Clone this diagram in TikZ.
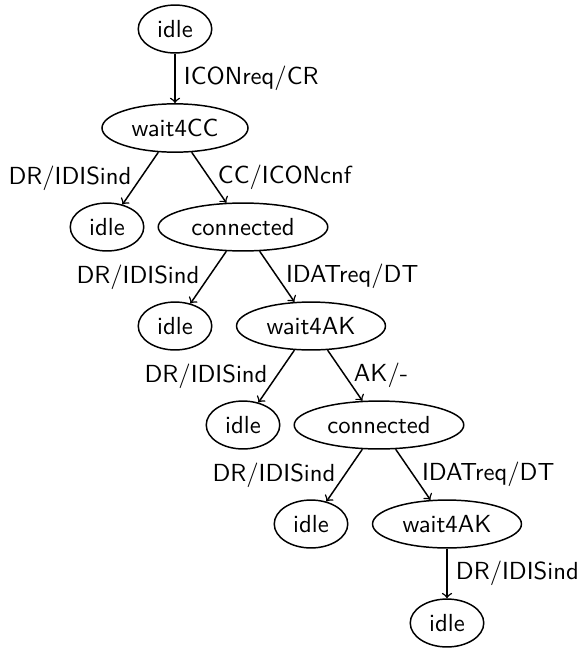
\documentclass[tikz,border=0pt]{standalone}
\usetikzlibrary{shapes.geometric}
\begin{document}
\begin{tikzpicture}[
  x=0.4049pt, y=-0.4049pt,
  font=\sffamily,
  line width=0.6pt,
  state/.style={draw, ellipse},
  trans/.style={->},
]
\useasboundingbox (0,0) rectangle (577,654);

% states
\node[state] (s0)  at (175,29)  {idle};
\node[state] (s1)  at (175,128) {wait4CC};
\node[state] (s2)  at (107,227) {idle};
\node[state] (s3)  at (243,227) {connected};
\node[state] (s4)  at (175,326) {idle};
\node[state] (s5)  at (311,326) {wait4AK};
\node[state] (s6)  at (243,425) {idle};
\node[state] (s7)  at (379,425) {connected};
\node[state] (s8)  at (311,524) {idle};
\node[state] (s9)  at (447,524) {wait4AK};
\node[state] (s10) at (447,623) {idle};

% transitions
\draw[trans] (s0) -- node[right] {ICONreq/CR} (s1);
\draw[trans] (s1) -- node[left]  {DR/IDISind} (s2);
\draw[trans] (s1) -- node[right] {CC/ICONcnf} (s3);
\draw[trans] (s3) -- node[left]  {DR/IDISind} (s4);
\draw[trans] (s3) -- node[right] {IDATreq/DT} (s5);
\draw[trans] (s5) -- node[left]  {DR/IDISind} (s6);
\draw[trans] (s5) -- node[right] {AK/-} (s7);
\draw[trans] (s7) -- node[left]  {DR/IDISind} (s8);
\draw[trans] (s7) -- node[right] {IDATreq/DT} (s9);
\draw[trans] (s9) -- node[right] {DR/IDISind} (s10);
\end{tikzpicture}
\end{document}
